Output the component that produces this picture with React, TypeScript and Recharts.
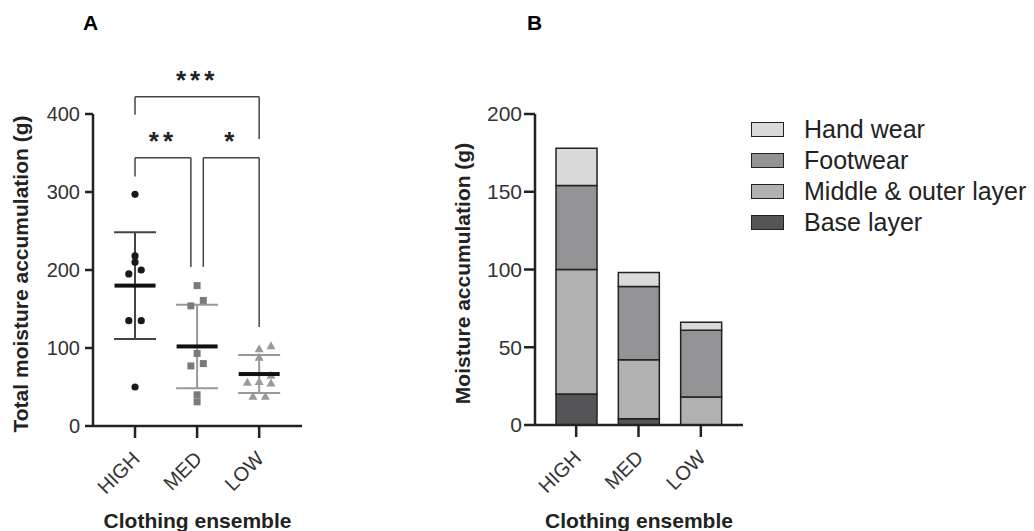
import {
  ComposedChart,
  BarChart,
  Bar,
  Scatter,
  ErrorBar,
  XAxis,
  YAxis,
  ReferenceLine,
  ReferenceDot,
} from "recharts";

const groups = ["HIGH", "MED", "LOW"];

// Panel A: individual totals per ensemble (g)
const highValues = [297, 218, 210, 195, 200, 135, 135, 50];
const highJitter = [0, 0, 0, -0.1, 0.1, -0.1, 0.1, 0];
const medValues = [180, 161, 154, 93, 77, 80, 40, 31];
const medJitter = [0, 0.1, -0.1, 0, -0.1, 0.1, 0, 0];
const lowValues = [99, 103, 88, 56, 57, 55, 65, 38, 38];
const lowJitter = [0, 0.19, 0, -0.19, 0, 0.19, 0.19, -0.1, 0.1];
const groupMeans = [180, 102, 66.6];
const groupSD = [68.5, 53.5, 24.4];

// significance brackets: from group, to group, bar height, left leg end, right leg end
const bracketFrom = [1, 1, 2.1];
const bracketTo = [3, 1.9, 3];
const bracketTop = [422, 344, 344];
const bracketLeftEnd = [399, 320, 204];
const bracketRightEnd = [368, 204, 127];
const bracketStars = ["***", "**", "*"];

// Panel B: stacked layers (g)
const baseLayer = [20, 4, 0];
const middleOuter = [80, 38, 18];
const footwear = [54, 47, 43];
const handWear = [24, 9, 5];

const yTicksA = [0, 100, 200, 300, 400];
const yTicksB = [0, 50, 100, 150, 200];

const layers = [
  { key: "base", name: "Base layer", color: "#555557" },
  { key: "middle", name: "Middle & outer layer", color: "#b1b1b2" },
  { key: "foot", name: "Footwear", color: "#939395" },
  { key: "hand", name: "Hand wear", color: "#dadadb" },
];

const toPoints = (vals: number[], jit: number[], g: number) =>
  vals.map((v, i) => ({ x: g + jit[i], y: v }));

const highPts = toPoints(highValues, highJitter, 1);
const medPts = toPoints(medValues, medJitter, 2);
const lowPts = toPoints(lowValues, lowJitter, 3);
const meanPts = groupMeans.map((m, i) => ({ x: i + 1, y: m, err: groupSD[i] }));

const stackData = groups.map((g, i) => ({
  name: g,
  base: baseLayer[i],
  middle: middleOuter[i],
  foot: footwear[i],
  hand: handWear[i],
}));

const FONT = "'Liberation Sans', Arial, sans-serif";
const AXIS = { stroke: "#222", strokeWidth: 2.5 };

const AngledTick = ({ x, y, payload, numeric }: any) => {
  const label = numeric ? groups[Math.round(payload.value) - 1] : payload.value;
  return (
    <g transform={`translate(${x + 6},${y + 20})`}>
      <text textAnchor="end" transform="rotate(-45)" fill="#333" fontSize={20}>
        {label}
      </text>
    </g>
  );
};

const Circle = ({ cx, cy }: any) => <circle cx={cx} cy={cy} r={3.6} fill="#1a1a1a" />;
const Square = ({ cx, cy }: any) => (
  <rect x={cx - 3.5} y={cy - 3.5} width={7} height={7} fill="#7a7a7a" />
);
const Triangle = ({ cx, cy }: any) => (
  <path d={`M${cx},${cy - 4.5} L${cx + 4.5},${cy + 3.5} L${cx - 4.5},${cy + 3.5} Z`} fill="#9a9a9a" />
);
const MeanBar = ({ cx, cy }: any) => (
  <rect x={cx - 20.5} y={cy - 2} width={41} height={4} fill="#111" />
);

const yTitle = (text: string, x: number) => (props: any) => {
  const vb = props.viewBox;
  const cy = vb.y + vb.height / 2 + 4;
  return (
    <text
      x={x}
      y={cy}
      transform={`rotate(-90, ${x}, ${cy})`}
      textAnchor="middle"
      dominantBaseline="central"
      fontWeight="bold"
      fontSize={21}
      fill="#222"
    >
      {text}
    </text>
  );
};

const xTitle = (props: any) => {
  const vb = props.viewBox;
  return (
    <text x={vb.x + vb.width / 2} y={528} textAnchor="middle" fontWeight="bold" fontSize={21} fill="#222">
      Clothing ensemble
    </text>
  );
};

export default function App() {
  return (
    <div
      style={{
        position: "fixed",
        left: 0,
        top: 0,
        width: 1034,
        height: 531,
        background: "#fff",
        fontFamily: FONT,
      }}
    >
      <div style={{ position: "absolute", left: 83, top: 11, fontWeight: "bold", fontSize: 21 }}>A</div>
      <div style={{ position: "absolute", left: 527, top: 11, fontWeight: "bold", fontSize: 21 }}>B</div>

      <div style={{ position: "absolute", left: 0, top: 0 }}>
        <ComposedChart width={330} height={531} margin={{ top: 114, right: 28, bottom: 45, left: 0 }}>
          <XAxis
            dataKey="x"
            type="number"
            domain={[0.323, 3.69]}
            ticks={[1, 2, 3]}
            allowDataOverflow
            height={60}
            axisLine={AXIS}
            tickLine={AXIS}
            tickSize={12}
            tickMargin={2}
            tick={<AngledTick numeric />}
            label={{ content: xTitle }}
          />
          <YAxis
            dataKey="y"
            type="number"
            domain={[0, 400]}
            ticks={yTicksA}
            allowDataOverflow
            width={93}
            axisLine={AXIS}
            tickLine={AXIS}
            tickSize={8}
            tickMargin={5}
            tick={{ fill: "#333", fontSize: 20 }}
            label={{ content: yTitle("Total moisture accumulation (g)", 20) }}
          />
          {bracketFrom.map((x1, i) => (
            <ReferenceLine
              key={`h${i}`}
              segment={[{ x: x1, y: bracketTop[i] }, { x: bracketTo[i], y: bracketTop[i] }]}
              stroke="#444"
              strokeWidth={1.5}
              ifOverflow="visible"
            />
          ))}
          {bracketFrom.map((x1, i) => (
            <ReferenceLine
              key={`l${i}`}
              segment={[{ x: x1, y: bracketTop[i] }, { x: x1, y: bracketLeftEnd[i] }]}
              stroke="#444"
              strokeWidth={1.5}
              ifOverflow="visible"
            />
          ))}
          {bracketTo.map((x2, i) => (
            <ReferenceLine
              key={`r${i}`}
              segment={[{ x: x2, y: bracketTop[i] }, { x: x2, y: bracketRightEnd[i] }]}
              stroke="#444"
              strokeWidth={1.5}
              ifOverflow="visible"
            />
          ))}
          {bracketStars.map((s, i) => (
            <ReferenceDot
              key={`s${i}`}
              x={(bracketFrom[i] + bracketTo[i]) / 2}
              y={bracketTop[i]}
              r={1}
              ifOverflow="visible"
              shape={(p: any) => (
                <text
                  x={p.cx}
                  y={p.cy - 8}
                  textAnchor="middle"
                  fontSize={26}
                  fontWeight="bold"
                  letterSpacing={4}
                  fill="#222"
                >
                  {s}
                </text>
              )}
            />
          ))}
          {[0, 1, 2].map((g) => (
            <Scatter
              key={`e${g}`}
              data={[meanPts[g]]}
              shape={() => null}
              isAnimationActive={false}
            >
              <ErrorBar
                dataKey="err"
                direction="y"
                width={21}
                stroke={g === 0 ? "#444" : "#999"}
                strokeWidth={2}
              />
            </Scatter>
          ))}
          <Scatter data={highPts} shape={<Circle />} isAnimationActive={false} />
          <Scatter data={medPts} shape={<Square />} isAnimationActive={false} />
          <Scatter data={lowPts} shape={<Triangle />} isAnimationActive={false} />
          <Scatter data={meanPts} shape={<MeanBar />} isAnimationActive={false} />
        </ComposedChart>
      </div>

      <div style={{ position: "absolute", left: 430, top: 0 }}>
        <BarChart
          width={604}
          height={531}
          data={stackData}
          margin={{ top: 114, right: 291, bottom: 46, left: 0 }}
          barSize={41}
        >
          <XAxis
            dataKey="name"
            height={60}
            padding={{ left: 10, right: 11 }}
            axisLine={AXIS}
            tickLine={AXIS}
            tickSize={12}
            tickMargin={2}
            tick={<AngledTick />}
            label={{ content: xTitle }}
          />
          <YAxis
            domain={[0, 200]}
            ticks={yTicksB}
            width={105}
            axisLine={AXIS}
            tickLine={AXIS}
            tickSize={11}
            tickMargin={2}
            tick={{ fill: "#333", fontSize: 21 }}
            label={{ content: yTitle("Moisture accumulation (g)", 32) }}
          />
          {layers.map((l) => (
            <Bar
              key={l.key}
              dataKey={l.key}
              name={l.name}
              stackId="s"
              fill={l.color}
              stroke="#222"
              strokeWidth={1.5}
              isAnimationActive={false}
            />
          ))}
        </BarChart>
      </div>

      <div style={{ position: "absolute", left: 751, top: 114, display: "flex", flexDirection: "column" }}>
        {[...layers].reverse().map((l) => (
          <div key={l.key} style={{ display: "flex", alignItems: "center", height: 31 }}>
            <span
              style={{
                width: 33,
                height: 15,
                background: l.color,
                border: "1.5px solid #222",
                boxSizing: "border-box",
                marginRight: 20,
              }}
            />
            <span style={{ fontSize: 25, color: "#222", whiteSpace: "nowrap" }}>{l.name}</span>
          </div>
        ))}
      </div>
    </div>
  );
}
